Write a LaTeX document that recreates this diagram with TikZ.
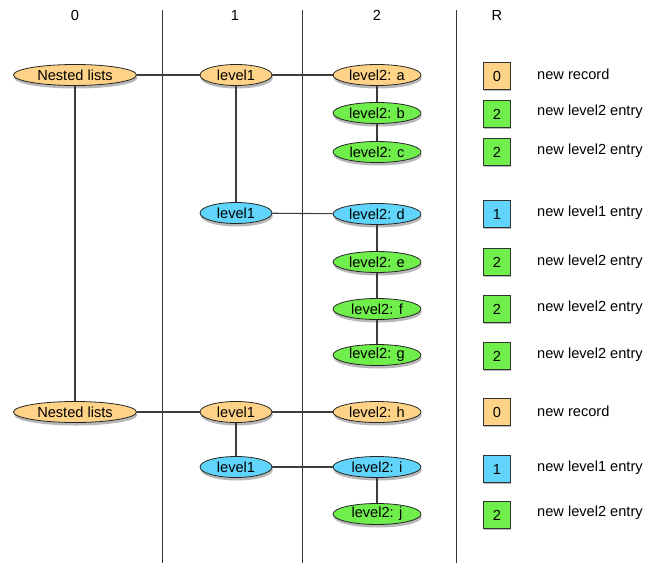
\documentclass[tikz,border=0pt]{standalone}
\usepackage{fontspec}
\setmainfont{Liberation Sans}
\usetikzlibrary{shapes.geometric,shadows}
\definecolor{cOrange}{RGB}{255,211,135}
\definecolor{cGreen}{RGB}{112,238,76}
\definecolor{cBlue}{RGB}{96,212,250}
\definecolor{cLine}{RGB}{60,60,60}
\tikzset{
  ell/.style={ellipse, draw=black!85, line width=0.8pt, inner sep=0pt, minimum height=21pt,
    font=\fontsize{14.6}{16}\selectfont,
    drop shadow={shadow xshift=0.8pt, shadow yshift=-3pt, opacity=0.28, fill=black}},
  e0/.style={ell, fill=cOrange, minimum width=123pt},
  e1/.style={ell, minimum width=72pt},
  e2/.style={ell, minimum width=88pt},
  sq/.style={rectangle, draw=black!80, line width=0.8pt, minimum size=27pt, inner sep=0pt,
    font=\fontsize{14.6}{16}\selectfont,
    drop shadow={shadow xshift=0.8pt, shadow yshift=-1.5pt, opacity=0.28, fill=black}},
  lbl/.style={anchor=west, inner sep=0pt, font=\fontsize{14.6}{16}\selectfont},
  hdr/.style={inner sep=0pt, font=\fontsize{14.6}{16}\selectfont},
  conn/.style={draw=cLine, line width=1.1pt},
  col/.style={draw=black!80, line width=0.9pt}
}
\begin{document}
\begin{tikzpicture}[x=1pt,y=-1pt]
\useasboundingbox (0,0) rectangle (661,570);
% headers
\node[hdr] (h0) at (75,15) {0};
\node[hdr] (h1) at (235,15) {1};
\node[hdr] (h2) at (377,15) {2};
\node[hdr] (hR) at (497,15) {R};
% column lines
\coordinate (c1t) at (162,10); \coordinate (c1b) at (162,563);
\coordinate (c2t) at (302,10); \coordinate (c2b) at (302,563);
\coordinate (c3t) at (456,10); \coordinate (c3b) at (456,563);
\draw[col] (c1t) -- (c1b);
\draw[col] (c2t) -- (c2b);
\draw[col] (c3t) -- (c3b);
% nodes
\node[e0] (n1) at (75,75) {Nested lists};
\node[e1, fill=cOrange] (l1a) at (236,75) {level1};
\node[e2, fill=cOrange] (a) at (377,75) {level2: a};
\node[e2, fill=cGreen] (b) at (377,113) {level2: b};
\node[e2, fill=cGreen] (c) at (377,152) {level2: c};
\node[e1, fill=cBlue] (l1b) at (236,213) {level1};
\node[e2, fill=cBlue] (d) at (377,214) {level2: d};
\node[e2, fill=cGreen] (e) at (377,262) {level2: e};
\node[e2, fill=cGreen] (f) at (377,309) {level2: f};
\node[e2, fill=cGreen] (g) at (377,355) {level2: g};
\node[e0] (n2) at (75,412) {Nested lists};
\node[e1, fill=cOrange] (l1c) at (236,412) {level1};
\node[e2, fill=cOrange] (h) at (377,412) {level2: h};
\node[e1, fill=cBlue] (l1d) at (236,467) {level1};
\node[e2, fill=cBlue] (i) at (377,467) {level2: i};
\node[e2, fill=cGreen] (j) at (377,514) {level2: j};
% connectors
\draw[conn] (n1) -- (l1a);
\draw[conn] (l1a) -- (a);
\draw[conn] (a) -- (b);
\draw[conn] (b) -- (c);
\draw[conn] (n1) -- (n2);
\draw[conn] (l1a) -- (l1b);
\draw[conn] (l1b) -- (d);
\draw[conn] (d) -- (e);
\draw[conn] (e) -- (f);
\draw[conn] (f) -- (g);
\draw[conn] (n2) -- (l1c);
\draw[conn] (l1c) -- (h);
\draw[conn] (l1c) -- (l1d);
\draw[conn] (l1d) -- (i);
\draw[conn] (i) -- (j);
% record column
\node[sq, fill=cOrange] (r1) at (497,76) {0};
\node[sq, fill=cGreen] (r2) at (497,114) {2};
\node[sq, fill=cGreen] (r3) at (497,152) {2};
\node[sq, fill=cBlue] (r4) at (497,214) {1};
\node[sq, fill=cGreen] (r5) at (497,262) {2};
\node[sq, fill=cGreen] (r6) at (497,309) {2};
\node[sq, fill=cGreen] (r7) at (497,356) {2};
\node[sq, fill=cOrange] (r8) at (497,412) {0};
\node[sq, fill=cBlue] (r9) at (497,469) {1};
\node[sq, fill=cGreen] (r10) at (497,515) {2};
\node[lbl] (t1) at (537,74) {new record};
\node[lbl] (t2) at (537,112) {new level2 entry};
\node[lbl] (t3) at (537,151) {new level2 entry};
\node[lbl] (t4) at (537,213) {new level1 entry};
\node[lbl] (t5) at (537,262) {new level2 entry};
\node[lbl] (t6) at (537,308) {new level2 entry};
\node[lbl] (t7) at (537,355) {new level2 entry};
\node[lbl] (t8) at (537,411) {new record};
\node[lbl] (t9) at (537,468) {new level1 entry};
\node[lbl] (t10) at (537,513) {new level2 entry};
\end{tikzpicture}
\end{document}
